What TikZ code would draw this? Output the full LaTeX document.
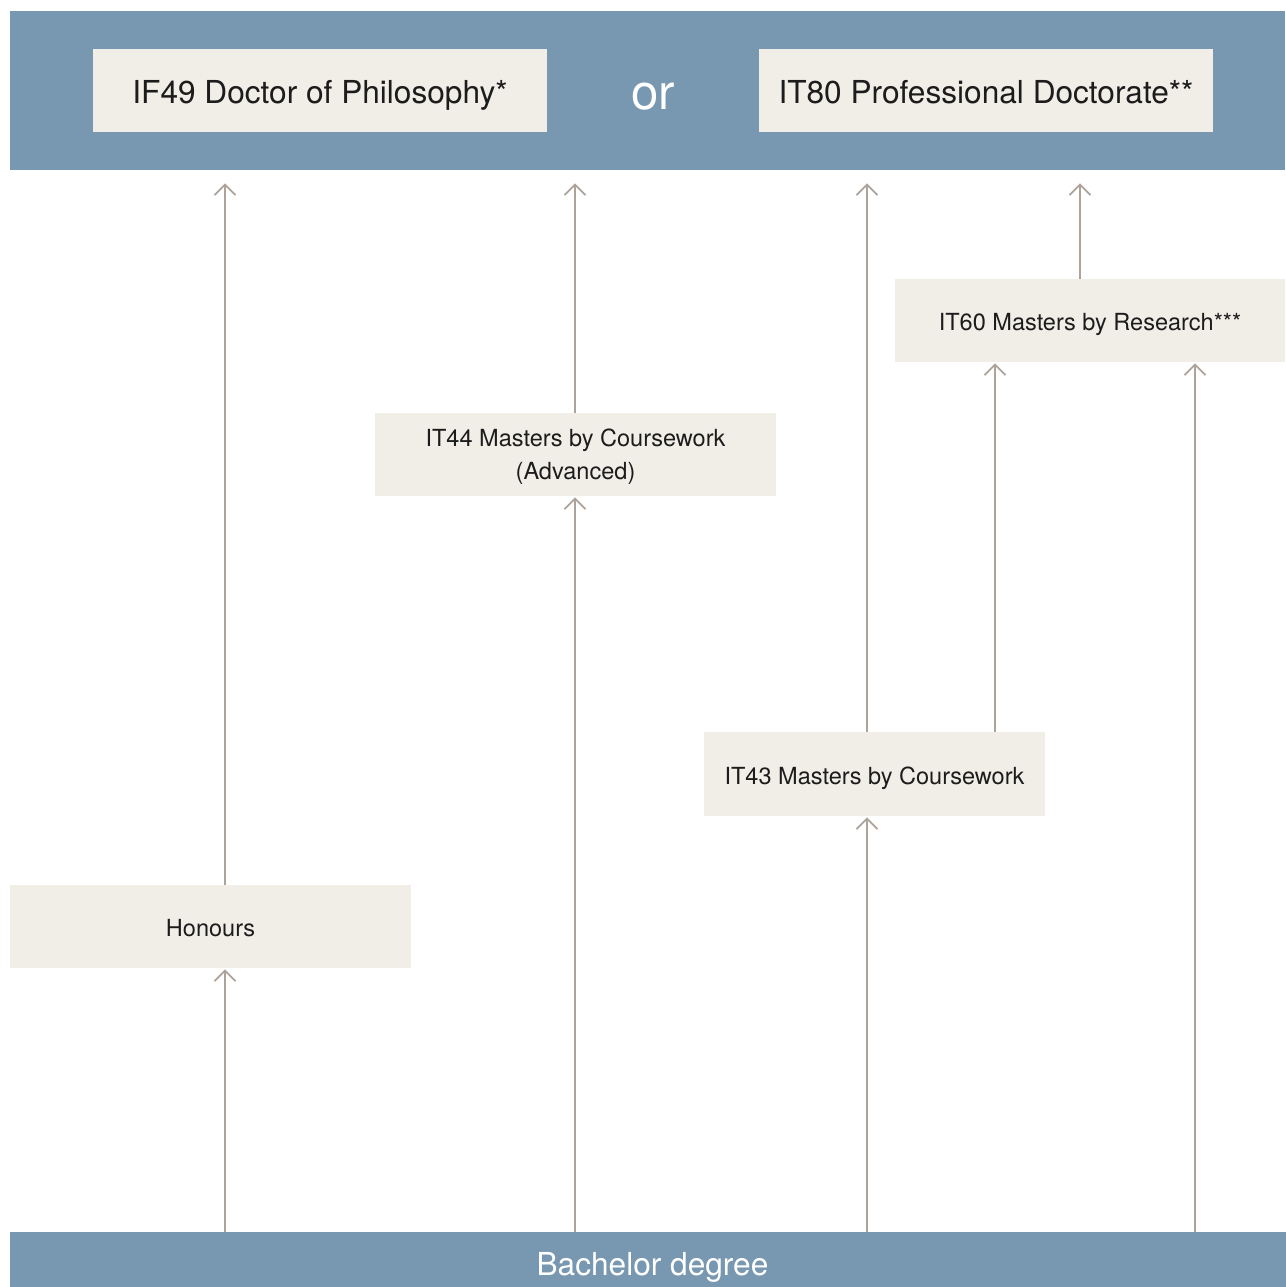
\documentclass[tikz,border=0pt]{standalone}
\usepackage{fontspec}
\setmainfont{TeX Gyre Heros}
\usepackage{xcolor}
\usetikzlibrary{arrows.meta}
\definecolor{bandblue}{HTML}{7898B2}
\definecolor{boxcream}{HTML}{F1EEE7}
\definecolor{linkgrey}{HTML}{ADA39A}
\definecolor{inkdark}{HTML}{1C1C1C}

\begin{document}
\begin{tikzpicture}[->,>={Straight Barb[length=6pt,width=12pt]},x=0.02cm,y=-0.02cm,
  band/.style={fill=bandblue,text=white,inner sep=0pt,font=\fontsize{18}{22}\selectfont},
  degree/.style={fill=boxcream,text=inkdark,inner sep=0pt,minimum height=1.66cm,
    text height=15.2pt,text depth=0pt,font=\fontsize{18}{22}\selectfont},
  course/.style={degree,text height=11.8pt,font=\fontsize{13.4}{19}\selectfont},
  link/.style={color=linkgrey,line width=1pt}]
  \useasboundingbox (0,0) rectangle (1285,1287);

  \node[band,minimum width=25.5cm,minimum height=3.19cm]        (top)      at (647.5,90.25) {};
  \node[text=white,inner sep=0pt,font=\fontsize{28}{32}\selectfont] (or) at (653.5,96.5) {or};
  \node[degree,minimum width=9.08cm]                             (phd)      at (320,90.5)    {IF49 Doctor of Philosophy*};
  \node[degree,minimum width=9.08cm]                             (profdoc)  at (986,90.5)    {IT80 Professional Doctorate**};
  \node[course,minimum width=7.8cm]                              (research) at (1090,320.5)  {IT60 Masters by Research***};
  \node[fill=boxcream,text=inkdark,inner sep=0pt,minimum height=1.66cm,minimum width=8.02cm,
    align=center,text depth=-2.2pt,font=\fontsize{13.4}{19}\selectfont] (advanced) at (575.5,454.5) {IT44 Masters by Coursework\\(Advanced)};
  \node[course,minimum width=6.82cm,minimum height=1.68cm]       (coursework) at (874.5,774) {IT43 Masters by Coursework};
  \node[course,minimum width=8.02cm]                             (hons)     at (210.5,926.5) {Honours};
  \node[band,minimum width=25.7cm,minimum height=1.3cm,
    text height=12.9pt,text depth=0pt]                           (bachelor) at (652.5,1264.5) {Bachelor degree};

  \coordinate (c1) at (225,0);
  \coordinate (c2) at (575,0);
  \coordinate (c3) at (867,0);
  \coordinate (c4) at (995,0);
  \coordinate (c5) at (1080,0);
  \coordinate (c6) at (1195,0);

  \path[link]
    (hons.north -| c1)       edge[shorten >=7.4pt] (top.south -| c1)
    (bachelor.north -| c1)   edge[shorten >=0.6pt] (hons.south -| c1)
    (advanced.north -| c2)   edge[shorten >=7.4pt] (top.south -| c2)
    (bachelor.north -| c2)   edge[shorten >=0.6pt] (advanced.south -| c2)
    (coursework.north -| c3) edge[shorten >=7.4pt] (top.south -| c3)
    (bachelor.north -| c3)   edge[shorten >=0.6pt] (coursework.south -| c3)
    (coursework.north -| c4) edge[shorten >=0.6pt] (research.south -| c4)
    (research.north -| c5)   edge[shorten >=7.4pt] (top.south -| c5)
    (bachelor.north -| c6)   edge[shorten >=0.6pt] (research.south -| c6);
\end{tikzpicture}
\end{document}
